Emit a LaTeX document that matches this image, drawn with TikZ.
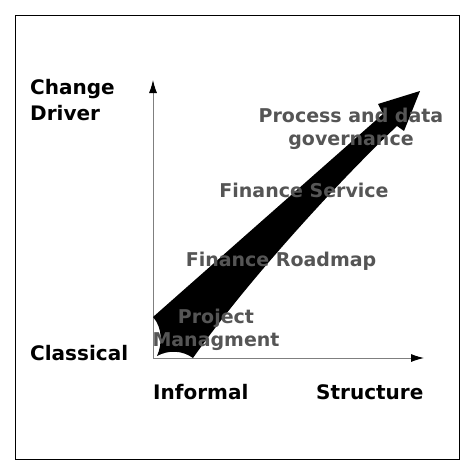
\documentclass[tikz,border=0pt]{standalone}
\usepackage{fontspec}
\setmainfont{DejaVu Sans}
\usetikzlibrary{arrows.meta}
\definecolor{labelgray}{HTML}{555555}
\definecolor{axisgray}{HTML}{7F7F7F}

\begin{document}
\begin{tikzpicture}[x=1pt,y=-1pt,
    axislabel/.style={font=\fontsize{20}{26}\selectfont\bfseries, inner sep=0pt, align=left},
    stagelabel/.style={font=\fontsize{19}{23}\selectfont\bfseries, text=labelgray, inner sep=0pt, align=center},
    axisline/.style={draw=axisgray, line width=0.9pt, -{Latex[length=13pt,width=8pt,black]}}]
    \useasboundingbox (0,0) rectangle (474,474); % keeps the margins
    \draw[line width=1pt] (15,15) rectangle (459,459); % outer frame

    \coordinate (origin) at (153,358);
    \coordinate (ytop) at (153,80);
    \coordinate (xend) at (424,358);
    \draw[axisline] (origin) -- (ytop);
    \draw[axisline] (origin) -- (xend);

    % the big tapered arrow, with its notched tail
    \fill[black] (153,317) -- (383,114) -- (378,104) -- (420,91) -- (404,131) -- (397,126)
        .. controls (340,180) and (248,280) .. (193,358)
        .. controls (182,350) and (168,350) .. (157,356)
        .. controls (162,345) and (163,328) .. cycle;

    % base anchor sits on the last line of a two-line node
    \node[axislabel, anchor=base west] (driver) at (30,120) {Change\\Driver};
    \node[axislabel, anchor=base west] (classical) at (30,360) {Classical};
    \node[axislabel, anchor=base west] (informal) at (153,399) {Informal};
    \node[axislabel, anchor=base west] (structure) at (316,399) {Structure};

    \node[stagelabel, anchor=base] (governance) at (351,145) {Process and data\\governance};
    \node[stagelabel, anchor=base] (service) at (304,197) {Finance Service};
    \node[stagelabel, anchor=base] (roadmap) at (281,266) {Finance Roadmap};
    \node[stagelabel, anchor=base] (project) at (216,346) {Project\\Managment};
\end{tikzpicture}
\end{document}
